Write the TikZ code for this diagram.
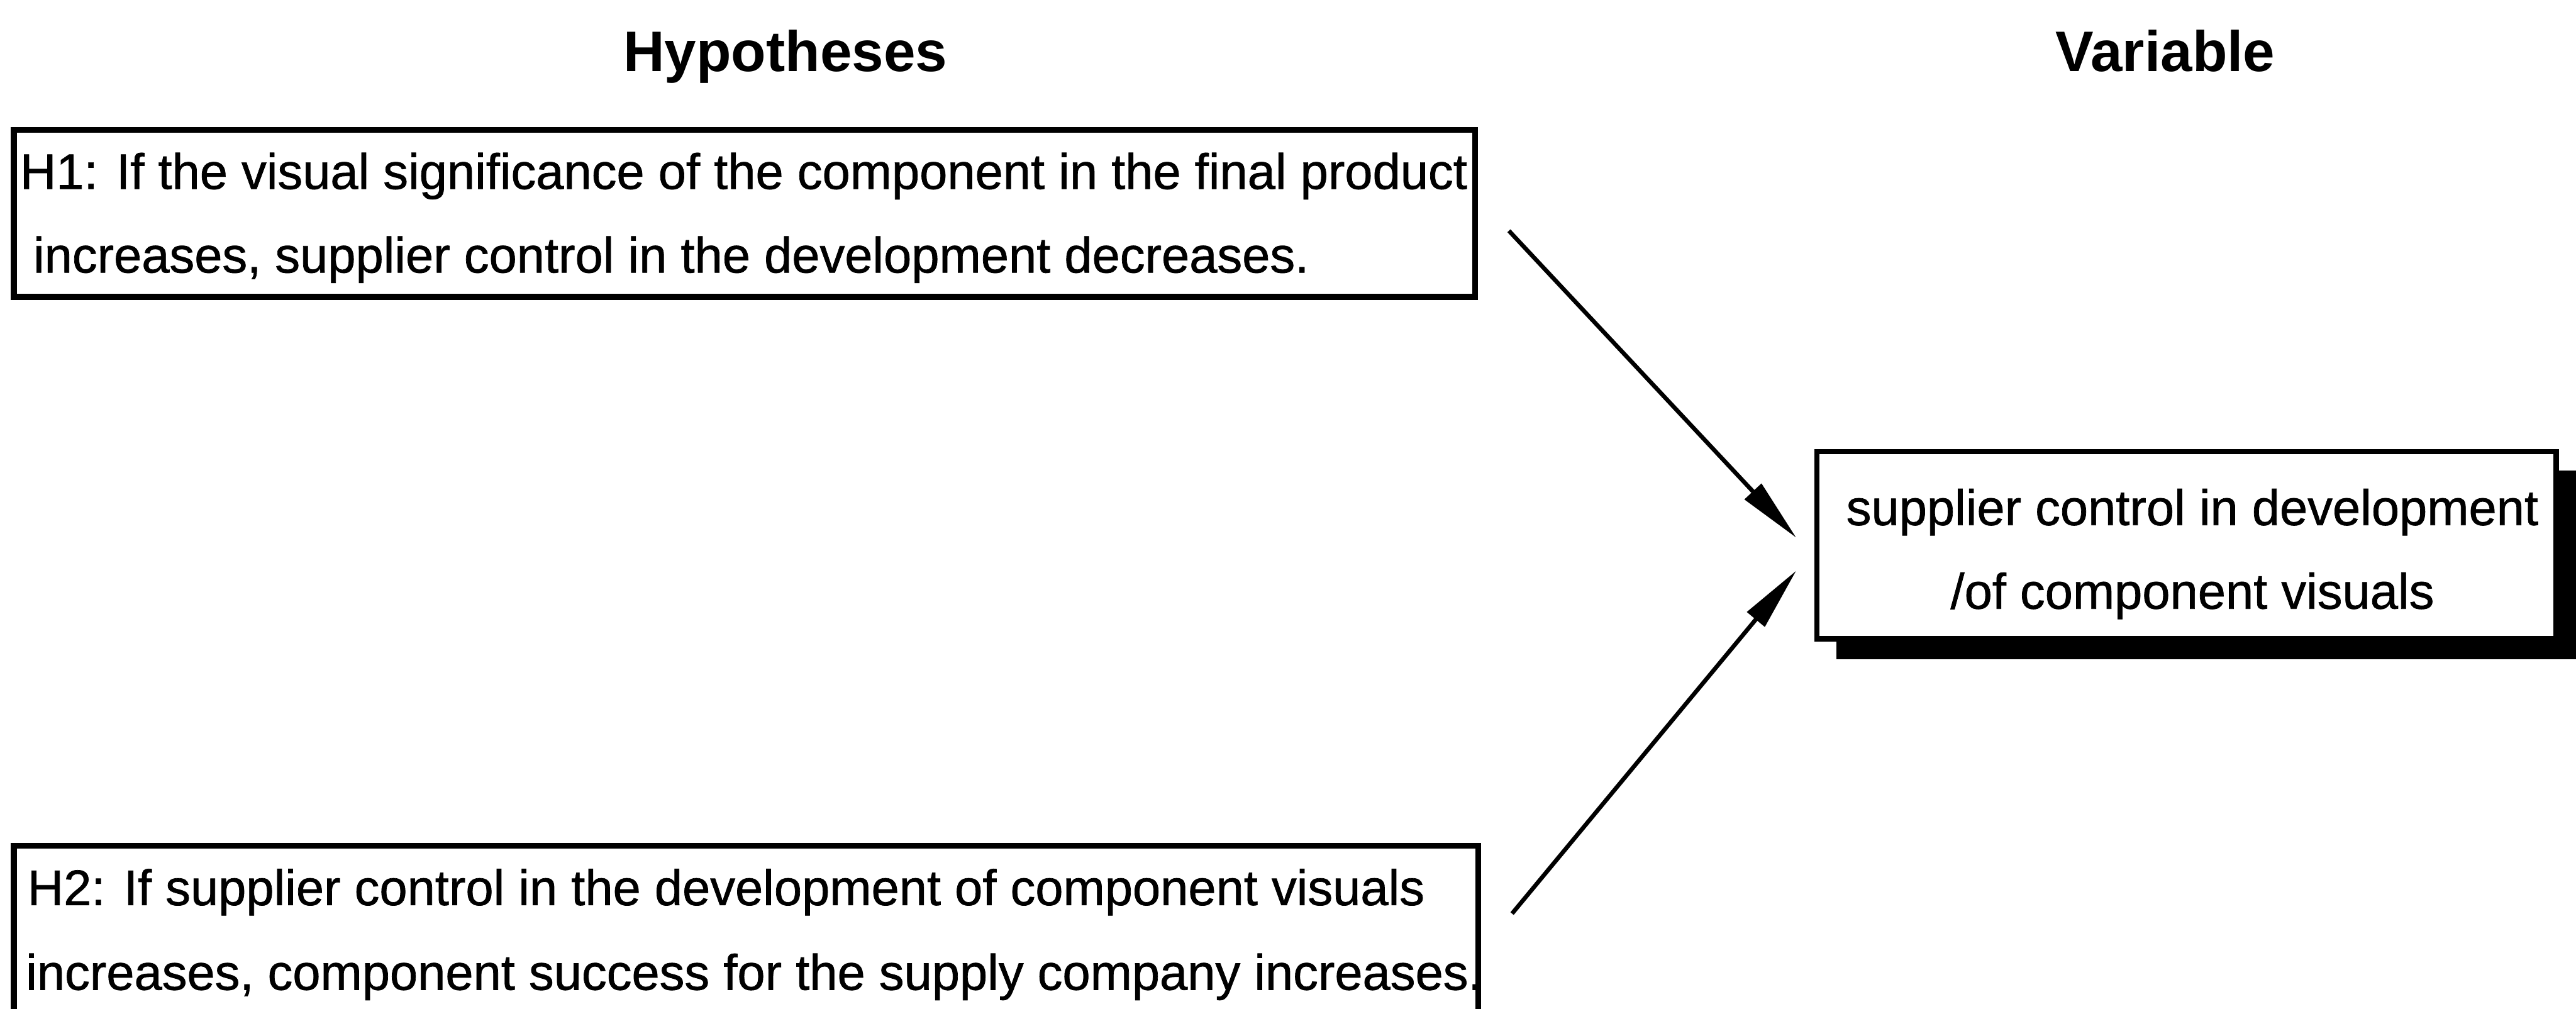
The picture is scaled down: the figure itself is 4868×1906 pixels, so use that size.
\documentclass[tikz,border=0pt]{standalone}
\usepackage{fontspec}
\setmainfont{Liberation Sans}
% slightly heavier face for the box texts
\newfontfamily\boxfont{Liberation Sans}[FakeBold=0.9]
\usetikzlibrary{arrows.meta}
\begin{document}
\begin{tikzpicture}[x=0.1pt,y=-0.1pt,
  heading/.style={anchor=base, inner sep=0pt, font=\fontsize{10.8pt}{13pt}\selectfont\bfseries},
  line/.style={anchor=base west, inner sep=0pt, font=\boxfont\fontsize{9.45pt}{11pt}\selectfont},
  cline/.style={anchor=base, inner sep=0pt, font=\boxfont\fontsize{9.45pt}{11pt}\selectfont},
  hypbox/.style={draw=black, line width=1.1pt, fill=white, inner sep=0pt},
  varbox/.style={draw=black, line width=1.0pt, fill=white, inner sep=0pt,
    minimum width=139.7pt, minimum height=35.4pt},
  link/.style={line width=0.8pt, -{Triangle[length=12pt,width=4.2pt]}}]
\useasboundingbox (0,0) rectangle (4868,1906);
\clip (0,0) rectangle (4868,1906);

% column headings
\node[heading] (hyphead) at (1484,135) {Hypotheses};
\node[heading] (varhead) at (4092,135) {Variable};

% hypothesis boxes
\node[hypbox, minimum width=276.2pt, minimum height=31.6pt] (h1) at (1407,403) {};
\node[line] (h1a) at (36,357) {H1: If the visual significance of the component in the final product};
\node[line] (h1b) at (61,515) {increases, supplier control in the development decreases.};

\node[hypbox, minimum width=276.8pt, minimum height=33pt] (h2) at (1410,1763) {};
\node[line] (h2a) at (50,1710) {H2: If supplier control in the development of component visuals};
\node[line] (h2b) at (47,1870) {increases, component success for the supply company increases.};

% variable box with its drop shadow
\fill[black] (3470,889) rectangle (4890,1246);
\node[varbox] (var) at (4132,1030) {};
\node[cline] (va) at (4143,992) {supplier control in development};
\node[cline] (vb) at (4143,1150) {/of component visuals};

% arrows from the hypotheses to the variable
\coordinate (h1out) at ([shift={(58,33)}]h1.east);
\coordinate (h2out) at ([shift={(58,-37)}]h2.east);
\coordinate (var1) at ([shift={(-34,-14)}]var.west);
\coordinate (var2) at ([shift={(-34,48)}]var.west);
\draw[link] (h1out) -- (var1);
\draw[link] (h2out) -- (var2);
\end{tikzpicture}
\end{document}
